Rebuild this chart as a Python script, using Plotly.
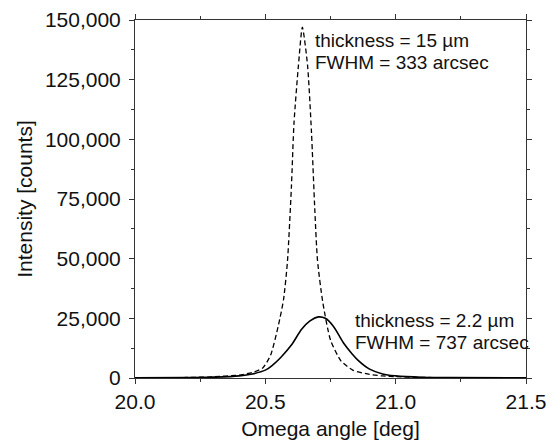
import plotly.graph_objects as go

# Curve data
omega_15um = [20.0, 20.2, 20.3, 20.4, 20.45, 20.49, 20.52, 20.55, 20.57, 20.585, 20.60, 20.61,
              20.627, 20.642, 20.662, 20.677, 20.69, 20.70, 20.72, 20.75, 20.79, 20.835,
              20.9, 20.95, 21.0, 21.1, 21.2, 21.5]
intensity_15um = [50, 200, 500, 1250, 2300, 4200, 9500, 22000, 33000, 49000, 80000, 107000,
                  131000, 147000, 131000, 103000, 70000, 49400, 32000, 15900, 7200, 3300,
                  1500, 850, 550, 250, 120, 50]

omega_2um = [20.0, 20.2, 20.3, 20.4, 20.45, 20.5, 20.53, 20.56, 20.6, 20.64, 20.67, 20.704,
             20.73, 20.76, 20.8, 20.83, 20.855, 20.9, 20.95, 21.0, 21.1, 21.2, 21.5]
intensity_2um = [50, 150, 350, 900, 1700, 3300, 5600, 8700, 13800, 20500, 23800, 25600,
                 25000, 21800, 14700, 10500, 7500, 3700, 1700, 900, 300, 150, 50]

x_ticks = [20.0, 20.5, 21.0, 21.5]
x_tick_labels = ["20.0", "20.5", "21.0", "21.5"]
y_ticks = [0, 25000, 50000, 75000, 100000, 125000, 150000]
y_tick_labels = ["0", "25,000", "50,000", "75,000", "100,000", "125,000", "150,000"]

label_15um = ["thickness = 15 µm", "FWHM = 333 arcsec"]
label_2um = ["thickness = 2.2 µm", "FWHM = 737 arcsec"]

font_family = "Liberation Sans, Arial, sans-serif"

fig = go.Figure()
fig.add_trace(go.Scatter(
    x=omega_15um, y=intensity_15um, mode="lines",
    line=dict(color="black", width=1.3, dash="5px,3px", shape="spline", smoothing=0.6),
    showlegend=False, hoverinfo="skip"))
fig.add_trace(go.Scatter(
    x=omega_2um, y=intensity_2um, mode="lines",
    line=dict(color="black", width=1.6, shape="spline", smoothing=1.0),
    showlegend=False, hoverinfo="skip"))

axis_common = dict(
    showline=True, linecolor="#333", linewidth=1, mirror="ticks",
    ticks="outside", ticklen=5, tickwidth=1, tickcolor="#333",
    showgrid=False, zeroline=False, automargin=False,
    tickfont=dict(family=font_family, size=21, color="#111"),
)

fig.update_xaxes(
    range=[20.0, 21.5], tickvals=x_ticks, ticktext=x_tick_labels,
    minor=dict(ticks="outside", ticklen=3, tickcolor="#333", dtick=0.25, showgrid=False),
    title=dict(text="Omega angle [deg]", font=dict(family=font_family, size=21, color="#111"), standoff=9),
    **axis_common)
fig.update_yaxes(
    range=[0, 150000], tickvals=y_ticks, ticktext=y_tick_labels, ticklabelstandoff=4,
    minor=dict(ticks="outside", ticklen=3, tickcolor="#333", dtick=12500, showgrid=False),
    title=dict(text="Intensity [counts]", font=dict(family=font_family, size=21, color="#111"), standoff=6),
    **axis_common)

ann_font = dict(family=font_family, size=19, color="#111")
for i, t in enumerate(label_15um):
    fig.add_annotation(x=20.681, y=[141600, 132000][i], text=t, showarrow=False,
                       xanchor="left", yanchor="middle", font=ann_font)
for i, t in enumerate(label_2um):
    fig.add_annotation(x=20.835, y=[24300, 14700][i], text=t, showarrow=False,
                       xanchor="left", yanchor="middle", font=ann_font)

# page body has an 8px margin, so the figure is offset by 8px
fig.update_layout(
    template="none",
    width=547, height=436,
    margin=dict(l=127, r=29, t=12, b=66),
    paper_bgcolor="white", plot_bgcolor="white",
    font=dict(family=font_family),
)

fig.write_html("out.html")
